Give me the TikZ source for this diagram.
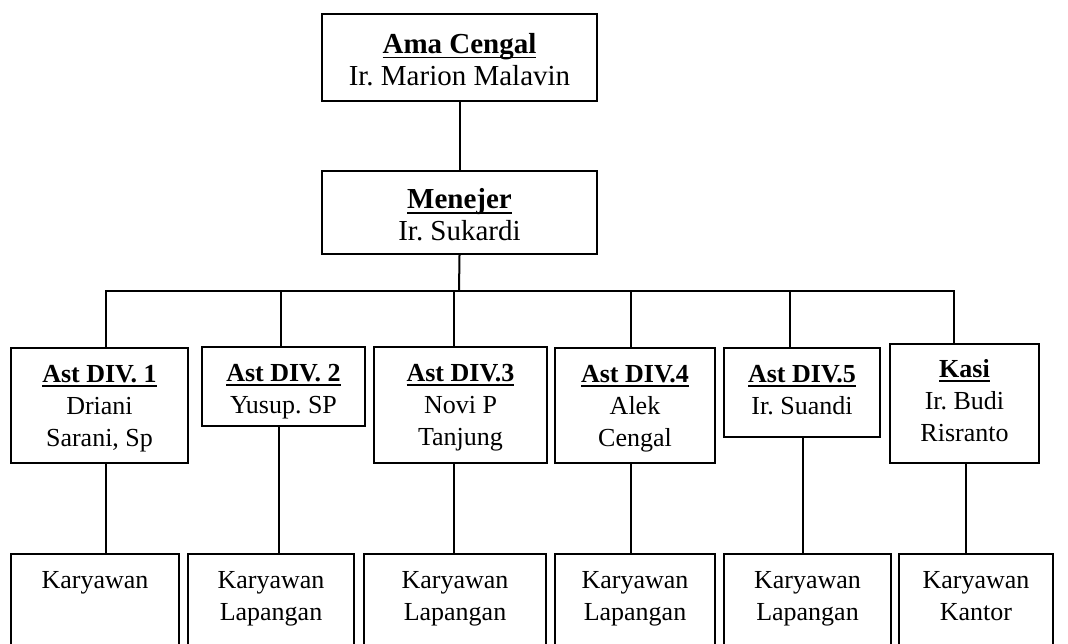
\documentclass[tikz,border=0pt]{standalone}
\usepackage{fontspec}
\setmainfont{Liberation Serif}
\usepackage{tikz}
\tikzset{
	%Define style for boxes
	kotak/.style={
		rectangle,
		draw=black, line width=1pt,
		inner sep=0pt,
		anchor=north west},
	garis/.style={line width=1pt}
}
% text set at the top of a box of fixed size
\newcommand{\isi}[4][6.3pt]{\parbox[c][#3][t]{#2}{\centering\vspace*{#1}\strut #4}}
% bold title with a close underline
\newcommand{\judul}[1]{\setbox0\hbox{\textbf{#1}}\rlap{\rule[-2.6pt]{\wd0}{0.9pt}}\box0}
\newcommand{\besar}{\fontsize{14.5}{16}\selectfont}

\begin{document}
\begin{tikzpicture}[x=0.5pt,y=-0.5pt]
	\fontsize{13}{16}\selectfont\frenchspacing
	\useasboundingbox (0,0) rectangle (1068,643);
	% top of the chart
	\node[kotak] (ama) at (321,13) {\isi[8.4pt]{137.5pt}{43.5pt}{\besar\judul{Ama Cengal}\\Ir. Marion Malavin}};
	\node[kotak] (men) at (321,170) {\isi[7.6pt]{137.5pt}{41.5pt}{\besar\judul{Menejer}\\Ir. Sukardi}};
	% assistants
	\node[kotak] (div1) at (10,347) {\isi[5.8pt]{88.5pt}{57.5pt}{\judul{Ast DIV. 1}\\Driani\\Sarani, Sp}};
	\node[kotak] (div2) at (201,346) {\isi[5.8pt]{81.5pt}{39.5pt}{\judul{Ast DIV. 2}\\Yusup. SP}};
	\node[kotak] (div3) at (373,346) {\isi[5.8pt]{86.5pt}{58pt}{\judul{Ast DIV.3}\\Novi P\\Tanjung}};
	\node[kotak] (div4) at (554,347) {\isi[5.8pt]{80pt}{57.5pt}{\judul{Ast DIV.4}\\Alek\\Cengal}};
	\node[kotak] (div5) at (723,347) {\isi[5.8pt]{78pt}{44.5pt}{\judul{Ast DIV.5}\\Ir. Suandi}};
	\node[kotak] (kasi) at (889,343) {\isi[5.3pt]{74.5pt}{59.5pt}{\judul{Kasi}\\Ir. Budi\\Risranto}};
	% workers
	\node[kotak] (k1) at (10,553) {\isi[5.8pt]{84pt}{63.5pt}{Karyawan}};
	\node[kotak] (k2) at (187,553) {\isi[5.8pt]{83pt}{63.5pt}{Karyawan\\Lapangan}};
	\node[kotak] (k3) at (363,553) {\isi[5.8pt]{91pt}{63.5pt}{Karyawan\\Lapangan}};
	\node[kotak] (k4) at (554,553) {\isi[5.8pt]{80pt}{63.5pt}{Karyawan\\Lapangan}};
	\node[kotak] (k5) at (723,553) {\isi[5.8pt]{83.5pt}{63.5pt}{Karyawan\\Lapangan}};
	\node[kotak] (k6) at (898,553) {\isi[5.8pt]{77pt}{63.5pt}{Karyawan\\Kantor}};

	\coordinate (bus) at (459,291);
	\draw[garis] (ama.south) -- (men.north);
	\draw[garis] (men.south) -- (bus);
	\draw[garis] ([xshift=3.25pt]div1.north) |- ([xshift=-5.25pt]kasi.north |- bus) -- ([xshift=-5.25pt]kasi.north);
	\draw[garis] ([xshift=-1.25pt]div2.north) -- ([xshift=-1.25pt]div2.north |- bus);
	\draw[garis] ([xshift=-3.25pt]div3.north) -- ([xshift=-3.25pt]div3.north |- bus);
	\draw[garis] ([xshift=-2pt]div4.north) -- ([xshift=-2pt]div4.north |- bus);
	\draw[garis] ([xshift=-6pt]div5.north) -- ([xshift=-6pt]div5.north |- bus);
	% down to the workers
	\draw[garis] ([xshift=3.25pt]div1.south) -- ([xshift=3.25pt]div1.south |- k1.north);
	\draw[garis] ([xshift=-2.25pt]div2.south) -- ([xshift=-2.25pt]div2.south |- k2.north);
	\draw[garis] ([xshift=-3.25pt]div3.south) -- ([xshift=-3.25pt]div3.south |- k3.north);
	\draw[garis] ([xshift=-2pt]div4.south) -- ([xshift=-2pt]div4.south |- k4.north);
	\draw[garis] ([xshift=0.5pt]div5.south) -- ([xshift=0.5pt]div5.south |- k5.north);
	\draw[garis] ([xshift=0.75pt]kasi.south) -- ([xshift=0.75pt]kasi.south |- k6.north);
\end{tikzpicture}
\end{document}
